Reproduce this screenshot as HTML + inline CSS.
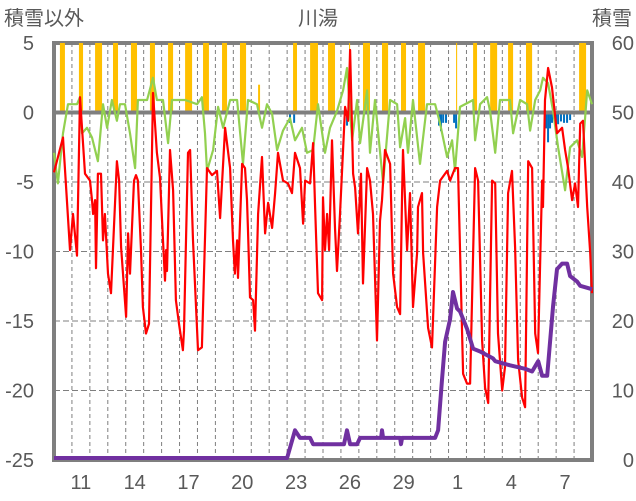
<!DOCTYPE html>
<html><head><meta charset="utf-8"><style>
html,body{margin:0;padding:0;background:#fff;}
svg{display:block;font-family:"Liberation Sans","Noto Sans CJK JP",sans-serif;}
</style></head><body>
<svg id="chart" width="636" height="501" viewBox="0 0 636 501" xmlns="http://www.w3.org/2000/svg">
<text x="318" y="25" text-anchor="middle" font-size="20" fill="#595959">川湯</text>
<text x="4" y="25" font-size="20" fill="#595959">積雪以外</text>
<text x="632" y="25" text-anchor="end" font-size="20" fill="#595959">積雪</text>
<g id="grid"></g>
<g id="axes"></g>
<g id="bars"></g>
<g id="lines"></g>
</svg>
<script>
const xTickLabels=["11","14","17","20","23","26","29","1","4","7"];
const xTickDays=[1,4,7,10,13,16,19,22,25,28];
const leftTicks=[5,0,-5,-10,-15,-20,-25];
const rightTicks=[60,50,40,30,20,10,0];
const redT=[0,0.5,0.89,1.06,1.28,1.45,1.73,2.01,2.12,2.18,2.29,2.34,2.45,2.62,2.73,2.84,3.01,3.18,3.51,3.63,3.74,4.02,4.13,4.24,4.46,4.57,4.68,4.85,4.96,5.13,5.30,5.52,5.74,5.91,6.08,6.19,6.25,6.30,6.47,6.64,6.80,6.97,7.19,7.25,7.36,7.47,7.59,7.75,8.03,8.25,8.53,8.81,9.09,9.26,9.54,9.82,9.98,10.09,10.21,10.26,10.49,10.65,10.76,10.82,10.93,11.10,11.21,11.38,11.60,11.77,11.94,12.16,12.33,12.49,12.77,13.05,13.27,13.44,13.72,13.89,14.00,14.28,14.45,14.56,14.72,14.95,15.00,15.11,15.23,15.34,15.50,15.67,15.78,15.95,16.23,16.40,16.51,16.68,16.79,16.95,17.12,17.23,17.46,17.62,17.79,18.01,18.18,18.29,18.46,18.74,18.91,19.13,19.30,19.41,19.46,19.69,19.85,20.02,20.25,20.30,20.52,20.58,20.86,21.08,21.36,21.53,21.92,22.09,22.36,22.53,22.81,23.03,23.20,23.48,23.65,23.87,24.04,24.21,24.43,24.60,24.76,24.99,25.15,25.32,25.54,25.71,25.88,26.10,26.27,26.44,26.66,26.83,26.99,27.22,27.27,27.38,27.55,27.77,28.05,28.33,28.50,28.67,28.89,29.06,29.22,29.34,29.50,29.73,29.90,30.0];
const redV=[-4.3,-1.8,-9.9,-7.3,-10.3,1.1,-4.4,-4.9,-6.3,-7.3,-6.3,-11.2,-4.4,-4.4,-9.2,-7.3,-11.6,-13.0,-3.5,-4.9,-9.7,-14.7,-8.7,-11.6,-4.9,-4.5,-4.9,-9.9,-14.0,-15.9,-15.2,1.4,-2.9,-4.7,-9.2,-12.1,-9.9,-11.4,-2.7,-5.6,-13.5,-15.2,-17.1,-15.7,-9.2,-2.9,-2.7,-9.2,-17.1,-16.9,-4.0,-4.5,-4.2,-7.6,-1.1,-4.0,-9.2,-11.6,-9.2,-11.9,-3.7,-4.0,-6.3,-8.5,-13.3,-13.5,-15.7,-7.3,-3.2,-8.7,-6.5,-8.3,-5.8,-2.9,-4.9,-5.1,-5.8,-2.9,-4.0,-8.0,-4.9,-5.1,-2.2,-6.8,-13.0,-13.5,-6.1,-9.9,-7.3,-9.9,-2.0,-8.3,-11.4,-7.3,0.4,-0.6,4.5,-4.4,-5.4,-8.7,-4.4,-12.3,-4.0,-4.9,-7.3,-16.4,-7.8,-6.3,-2.7,-3.7,-11.6,-14.0,-14.5,-5.8,-2.7,-9.9,-5.8,-14.0,-10.1,-6.8,-5.8,-10.1,-15.5,-16.9,-6.8,-4.9,-4.2,-4.9,-4.0,-4.0,-18.8,-19.5,-19.5,-4.0,-4.9,-16.4,-19.8,-20.9,-4.9,-5.1,-15.9,-20.0,-18.3,-5.8,-4.2,-9.7,-17.8,-20.5,-21.2,-3.5,-4.0,-15.9,-17.3,-4.9,-6.8,0.9,3.2,1.8,-1.5,-1.1,-2.7,-4.0,-6.3,-5.1,-6.8,-0.8,-0.6,-6.8,-10.1,-13.0];
const greenT=[0,0.22,0.5,0.78,1.28,1.45,1.56,1.84,2.12,2.45,2.73,2.96,3.23,3.51,3.68,3.96,4.24,4.52,4.68,5.19,5.52,5.74,6.08,6.36,6.58,7.31,7.98,8.25,8.42,8.53,8.87,9.15,9.43,9.82,10.21,10.54,10.82,11.32,11.60,11.88,12.16,12.44,12.77,13.16,13.44,13.83,14.11,14.45,14.72,15.11,15.39,15.78,16.12,16.34,16.62,16.90,17.07,17.46,17.62,17.90,18.35,18.74,19.13,19.30,19.58,19.74,20.02,20.41,20.80,21.25,21.53,21.92,22.20,22.36,22.64,23.37,23.48,23.76,24.15,24.32,24.60,24.87,25.43,25.60,25.99,26.38,26.55,26.83,27.11,27.27,27.55,27.83,28.11,28.50,28.78,29.17,29.45,29.73,30];
const greenV=[-2.9,-5.1,-1.5,0.6,0.6,1.1,-1.5,-1.1,-1.8,-3.5,0.6,-1.1,0.9,-0.6,0.6,0.6,-1.5,-4.0,0.9,0.9,2.5,0.9,0.9,-2.2,0.9,0.9,0.6,1.1,-1.5,-4.2,-2.7,0.4,-1.1,0.9,0.9,-3.7,0.9,0.6,-1.1,0.6,-0.1,-2.7,-1.3,-0.4,-2.0,-1.1,-2.9,-2.7,0.6,-2.9,-1.1,0.1,1.6,3.2,-2.0,0.9,-2.2,1.6,-2.9,0.9,-5.1,0.9,0.6,-2.5,-0.4,-2.9,0.9,-3.7,0.6,0.6,-0.8,-3.2,-2.0,-4.2,0.4,0.9,-2.0,0.6,1.1,0.1,-2.9,0.9,0.9,-1.5,0.9,0.6,-1.3,0.9,1.6,2.5,2.1,0.1,-2.5,-5.6,-2.5,-2.0,-3.2,1.6,0.6];
const snowT=[0,13.0,13.44,13.72,14.28,14.45,16.17,16.34,16.51,16.9,17.07,18.24,18.29,18.35,19.3,19.35,19.41,21.25,21.42,21.64,21.81,22.09,22.25,22.48,22.64,23.03,23.37,23.76,24.48,24.6,25.43,26.27,26.66,27.0,27.22,27.5,27.83,28.05,28.33,28.61,28.78,29.17,29.34,30];
const snowV=[0,0,4.0,2.9,2.9,2.0,2.0,4.0,2.0,2.0,2.9,2.9,4.0,2.9,2.9,2.0,2.9,2.9,4.0,11.5,16.8,20.1,24.0,21.6,21.2,18.7,15.8,15.4,14.4,14.0,13.4,12.9,12.5,14.0,11.9,11.9,22.0,27.3,28.1,28.1,26.3,25.5,24.9,24.4];
const sunStart=[0.33,1.39,2.29,3.29,4.29,5.35,6.36,7.31,8.31,9.37,10.37,11.38,13.33,14.28,15.28,16.45,17.23,18.29,19.35,20.30,22.42,23.37,24.32,25.32,26.32,29.28];
const sunEnd=[0.61,1.62,2.68,3.57,4.63,5.63,6.64,7.70,8.64,9.65,10.71,11.49,13.55,14.72,15.67,16.51,17.62,18.63,19.63,20.69,22.48,23.59,24.71,25.60,26.66,29.67];
const sunV=[5,5,5,5,5,5,5,5,5,5,5,2,5,5,5,5,5,5,5,5,5,5,5,5,5,5];
const precT=[13.16,13.39,16.34,21.47,21.58,21.7,21.86,22.31,22.42,27.44,27.55,27.66,27.77,28.0,28.11,28.27,28.44,28.61,28.78];
const precV=[-0.6,-0.6,-0.8,-0.8,-1.2,-0.6,-0.6,-0.6,-1.0,-1.0,-2.0,-1.0,-0.6,-0.6,-0.7,-0.5,-0.6,-0.6,-0.4];

const L=54,R=592,T=43,B=460,NDAYS=30;
const NS="http://www.w3.org/2000/svg";
function xs(d){return L+(R-L)*d/NDAYS;}
function yl(v){return T+(B-T)*(5-v)/30;}
function yr(v){return B-2-(B-2-T)*v/60;}
function yrTick(v){return B-(B-T)*v/60;}
function mk(tag,attrs,parent){const e=document.createElementNS(NS,tag);for(const k in attrs)e.setAttribute(k,attrs[k]);parent.appendChild(e);return e;}
const grid=document.getElementById('grid'),bars=document.getElementById('bars'),lines=document.getElementById('lines'),axes=document.getElementById('axes');
for(let d=1;d<NDAYS;d++){
  const g=mk('line',{x1:xs(d),x2:xs(d),y1:T,y2:B,stroke:'#7f7f7f','stroke-width':1,'stroke-dasharray':'4,3'},grid);
  
  
}
leftTicks.forEach(v=>{
  if(v<5&&v>-25&&v!==0){const g=mk('line',{x1:L,x2:R,y1:yl(v),y2:yl(v),stroke:'#7f7f7f','stroke-width':1,'stroke-dasharray':'6,3'},grid);
  
  }
  const t=mk('text',{x:34,y:yl(v)+7,'text-anchor':'end','font-size':20,fill:'#595959'},axes);t.textContent=v;
  
  
});
rightTicks.forEach(v=>{
  const t=mk('text',{x:634,y:yrTick(v)+7,'text-anchor':'end','font-size':20,fill:'#595959'},axes);t.textContent=v;
  
  
});
xTickLabels.forEach((s,i)=>{
  const t=mk('text',{x:xs(xTickDays[i]+0.5),y:489,'text-anchor':'middle','font-size':20,fill:'#595959'},axes);t.textContent=s;
  
  
});
const fr=mk('rect',{x:L,y:T,width:R-L,height:B-T,fill:'none',stroke:'#7f7f7f','stroke-width':4},axes);


sunStart.forEach((s,i)=>{
  const r=mk('rect',{x:xs(s),y:yl(sunV[i]),width:Math.max(1,xs(sunEnd[i])-xs(s)),height:yl(0)-2-yl(sunV[i]),fill:'#ffc000'},bars);
  
  
});
const z=mk('line',{x1:L,x2:R,y1:yl(0),y2:yl(0),stroke:'#7f7f7f','stroke-width':4},bars);


precT.forEach((s,i)=>{
  const r=mk('rect',{x:xs(s)-1,y:yl(0)+2,width:2,height:yl(precV[i])-yl(0),fill:'#0070c0'},bars);
  
  
});
function poly(T_,V_,fy,color,w,name){
  const p=T_.map((t,i)=>xs(t).toFixed(1)+','+fy(V_[i]).toFixed(1)).join(' ');
  const e=mk('polyline',{points:p,fill:'none',stroke:color,'stroke-width':w,'stroke-linejoin':'round'},lines);
  
  
}
poly(greenT,greenV,yl,'#92d050',2.2,'max-temp-line');
poly(redT,redV,yl,'#ff0000',2.2,'min-temp-line');
poly(snowT,snowV,yr,'#7030a0',4,'snow-depth-line');
</script>
</body></html>
